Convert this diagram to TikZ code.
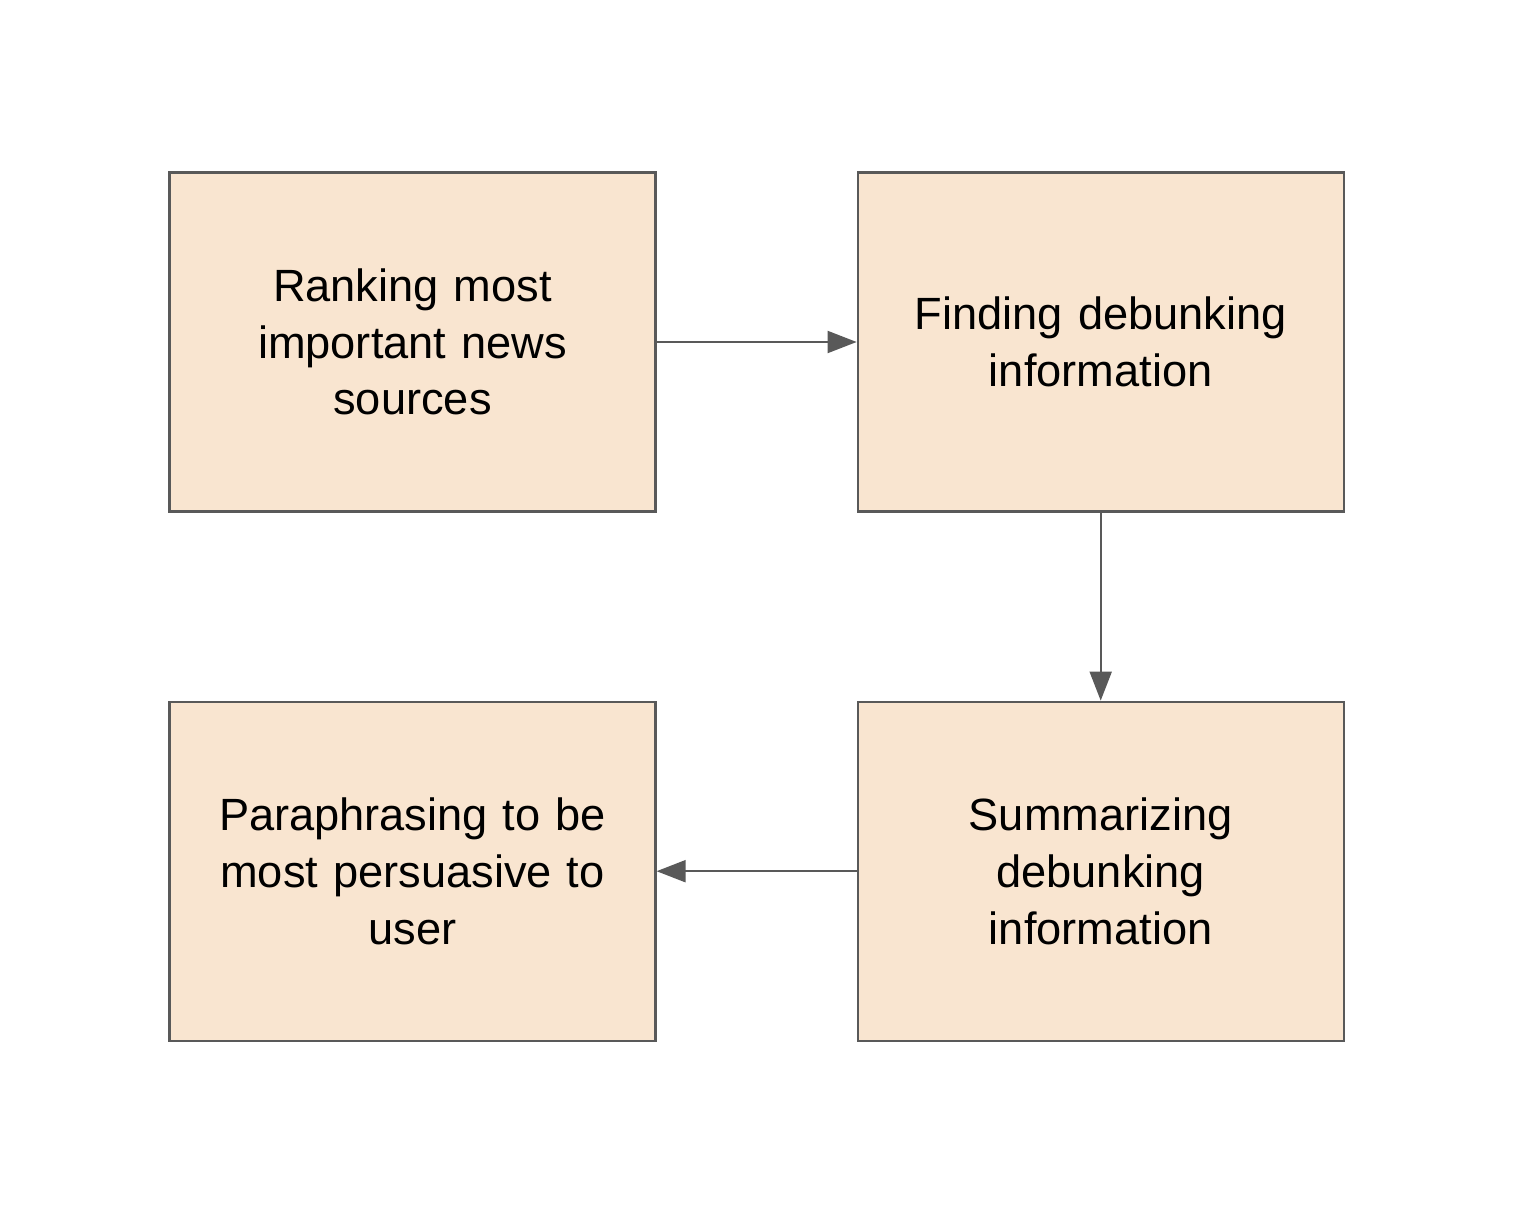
\documentclass[tikz,border=0pt]{standalone}
\usepackage{fontspec}
\setmainfont{Liberation Sans}
\usetikzlibrary{positioning,arrows.meta,backgrounds}
\definecolor{peach}{RGB}{249, 229, 208}
\definecolor{darkgray}{RGB}{89, 89, 89}
\definecolor{white}{RGB}{255, 255, 255}

\begin{document}
\begin{tikzpicture}[
        background rectangle/.style={fill=white},
        show background rectangle,
        stage/.style={
            draw=darkgray,
            fill=peach,
            line width=1.1pt,
            minimum width=243pt,
            minimum height=169.5pt,
            align=center,
            text width=230pt,
            font=\fontsize{22.6}{28.4}\selectfont
        },
        flow/.style={
            draw=darkgray,
            line width=1pt,
            -{Triangle[length=14.5pt,width=11pt]}
        },
        node distance=94pt and 100pt
    ]

        \useasboundingbox (0,0) rectangle (766pt,-605pt);

        \node[stage] (rank) at (206.25pt,-171pt) {Ranking most\\important news\\sources};
        \node[stage, right=of rank] (find) {Finding debunking\\information};
        \node[stage, below=of find] (summ) {Summarizing\\debunking\\information};
        \node[stage, below=of rank] (para) {Paraphrasing to be\\most persuasive to\\user};

        \draw[flow] (rank) -- (find);
        \draw[flow] (find) -- (summ);
        \draw[flow] (summ) -- (para);
    \end{tikzpicture}
\end{document}
